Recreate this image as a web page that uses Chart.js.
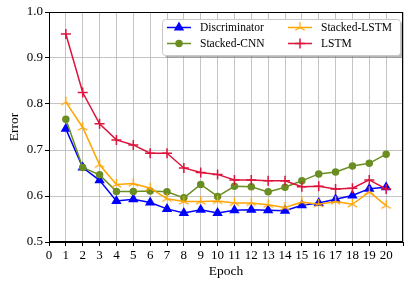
<!DOCTYPE html>
<html>
<head>
<meta charset="utf-8">
<script src="https://cdn.jsdelivr.net/npm/chart.js@4.4.1/dist/chart.umd.min.js"></script>
<style>
    html, body { margin: 0; padding: 0; background: #fff; }
    #wrap { width: 415px; height: 287px; }
</style>
</head>
<body>
<div id="wrap"><canvas id="error-chart" width="415" height="287"></canvas></div>
<script>
// Error per epoch for each model
const epochs = [1, 2, 3, 4, 5, 6, 7, 8, 9, 10, 11, 12, 13, 14, 15, 16, 17, 18, 19, 20];
const discriminator = [0.746, 0.662, 0.634, 0.589, 0.593, 0.586, 0.572, 0.563, 0.570, 0.563,
    0.569, 0.570, 0.569, 0.568, 0.580, 0.585, 0.593, 0.601, 0.616, 0.619];
const stackedCnn = [0.767, 0.662, 0.646, 0.610, 0.610, 0.611, 0.609, 0.596, 0.625, 0.599,
    0.621, 0.620, 0.609, 0.619, 0.633, 0.648, 0.652, 0.665, 0.671, 0.691];
const stackedLstm = [0.804, 0.749, 0.668, 0.625, 0.627, 0.617, 0.594, 0.588, 0.588, 0.589,
    0.585, 0.585, 0.581, 0.575, 0.587, 0.582, 0.588, 0.582, 0.609, 0.579];
const lstm = [0.952, 0.825, 0.757, 0.722, 0.711, 0.693, 0.693, 0.661, 0.651, 0.647,
    0.635, 0.635, 0.633, 0.633, 0.620, 0.621, 0.615, 0.617, 0.635, 0.615];
const xTicks = [0, 1, 2, 3, 4, 5, 6, 7, 8, 9, 10, 11, 12, 13, 14, 15, 16, 17, 18, 19, 20];
const yTicks = [0.5, 0.6, 0.7, 0.8, 0.9, 1.0];

const serif = "'Liberation Serif', 'DejaVu Serif', serif";

// matplotlib-style "tri_up" marker as a small canvas
function triMarker(color) {
    const c = document.createElement('canvas');
    c.width = 13; c.height = 13;
    const g = c.getContext('2d');
    g.strokeStyle = color;
    g.lineWidth = 1.3;
    const cx = 6.5, cy = 6.5, r = 5.5;
    g.beginPath();
    [90, 210, 330].forEach(a => {
        const rad = a * Math.PI / 180;
        g.moveTo(cx, cy);
        g.lineTo(cx + r * Math.cos(rad), cy - r * Math.sin(rad));
    });
    g.stroke();
    return c;
}

const toPoints = ys => ys.map((y, i) => ({ x: epochs[i], y: y }));

const series = [
    { label: 'Discriminator', data: discriminator, color: '#0000ff', style: 'triangle', radius: 4.5, order: 4 },
    { label: 'Stacked-CNN', data: stackedCnn, color: '#6b8e23', style: 'circle', radius: 3, order: 3 },
    { label: 'Stacked-LSTM', data: stackedLstm, color: '#ffa500', style: triMarker('#ffa500'), radius: 6, order: 2 },
    { label: 'LSTM', data: lstm, color: '#dc143c', style: 'cross', radius: 5, order: 1 }
];

// legend box drawn inside the plot, two columns like matplotlib
const insideLegend = {
    id: 'insideLegend',
    afterDatasetsDraw(chart) {
        const ctx = chart.ctx;
        const box = { x: 162, y: 19, w: 238, h: 36 };
        ctx.save();
        // shadow
        ctx.fillStyle = 'rgba(128,128,128,0.55)';
        ctx.beginPath();
        ctx.roundRect(box.x + 3, box.y + 3, box.w, box.h, 3);
        ctx.fill();
        ctx.fillStyle = '#ffffff';
        ctx.strokeStyle = '#c8c8c8';
        ctx.lineWidth = 1;
        ctx.beginPath();
        ctx.roundRect(box.x + 0.5, box.y + 0.5, box.w, box.h, 3);
        ctx.fill();
        ctx.stroke();

        const cols = [167, 288];
        const rows = [27.5, 43.5];
        const layout = [[0, 0], [1, 0], [0, 1], [1, 1]]; // [row, col] per series
        ctx.font = '11.5px ' + serif;
        ctx.textBaseline = 'middle';
        series.forEach((s, i) => {
            const [r, c] = layout[i];
            const x0 = cols[c], y0 = rows[r];
            ctx.strokeStyle = s.color;
            ctx.fillStyle = s.color;
            ctx.lineWidth = 1.5;
            ctx.beginPath();
            ctx.moveTo(x0, y0);
            ctx.lineTo(x0 + 24, y0);
            ctx.stroke();
            Chart.helpers.drawPoint(ctx, {
                pointStyle: s.style, radius: s.radius, borderWidth: 1.5, rotation: 0
            }, x0 + 12, y0);
            ctx.fillStyle = '#000';
            ctx.fillText(s.label, x0 + 33, y0 + 0.5);
        });
        ctx.restore();
    }
};

// black frame around the plot area
const frame = {
    id: 'frame',
    afterDraw(chart) {
        const a = chart.chartArea;
        const ctx = chart.ctx;
        ctx.save();
        ctx.strokeStyle = '#000';
        ctx.lineWidth = 1;
        ctx.strokeRect(Math.round(a.left) + 0.5, Math.round(a.top) + 0.5,
            Math.round(a.right - a.left) - 1, Math.round(a.bottom - a.top) - 1);
        ctx.restore();
    }
};

const gridColor = 'rgba(176,176,176,0.75)';

new Chart(document.getElementById('error-chart'), {
    type: 'line',
    data: {
        datasets: series.map(s => ({
            label: s.label,
            data: toPoints(s.data),
            borderColor: s.color,
            backgroundColor: s.color,
            borderWidth: 1.5,
            pointStyle: s.style,
            pointRadius: s.radius,
            pointBorderWidth: 1.5,
            pointBorderColor: s.color,
            pointBackgroundColor: s.color,
            tension: 0,
            fill: false,
            order: s.order
        }))
    },
    options: {
        responsive: false,
        animation: false,
        layout: { padding: { top: 12, right: 12, left: 0, bottom: 0 } },
        plugins: {
            legend: { display: false },
            tooltip: { enabled: false }
        },
        scales: {
            x: {
                type: 'linear',
                min: 0,
                max: 21,
                afterFit: scale => { scale.height = 45; },
                afterBuildTicks: scale => {
                    scale.ticks = xTicks.concat([21]).map(v => ({ value: v }));
                },
                ticks: {
                    color: '#000',
                    font: { family: serif, size: 13 },
                    padding: 2,
                    maxRotation: 0,
                    autoSkip: false,
                    callback: v => (xTicks.includes(v) ? String(v) : '')
                },
                grid: { color: gridColor, lineWidth: 1, tickColor: '#000', tickLength: 4, drawTicks: true },
                border: { color: '#000', width: 1 },
                title: { display: true, text: 'Epoch', color: '#000', font: { family: serif, size: 13.5 }, padding: { top: 0, bottom: 7 } }
            },
            y: {
                min: 0.5,
                max: 1.0,
                afterFit: scale => { scale.width = 49; },
                afterBuildTicks: scale => {
                    scale.ticks = yTicks.map(v => ({ value: v }));
                },
                ticks: {
                    color: '#000',
                    font: { family: serif, size: 13 },
                    padding: 2,
                    callback: v => v.toFixed(1)
                },
                grid: { color: gridColor, lineWidth: 1, tickColor: '#000', tickLength: 4, drawTicks: true },
                border: { color: '#000', width: 1 },
                title: { display: true, text: 'Error', color: '#000', font: { family: serif, size: 13.5 }, padding: { top: 6, bottom: 0 } }
            }
        }
    },
    plugins: [frame, insideLegend]
});
</script>
</body>
</html>
